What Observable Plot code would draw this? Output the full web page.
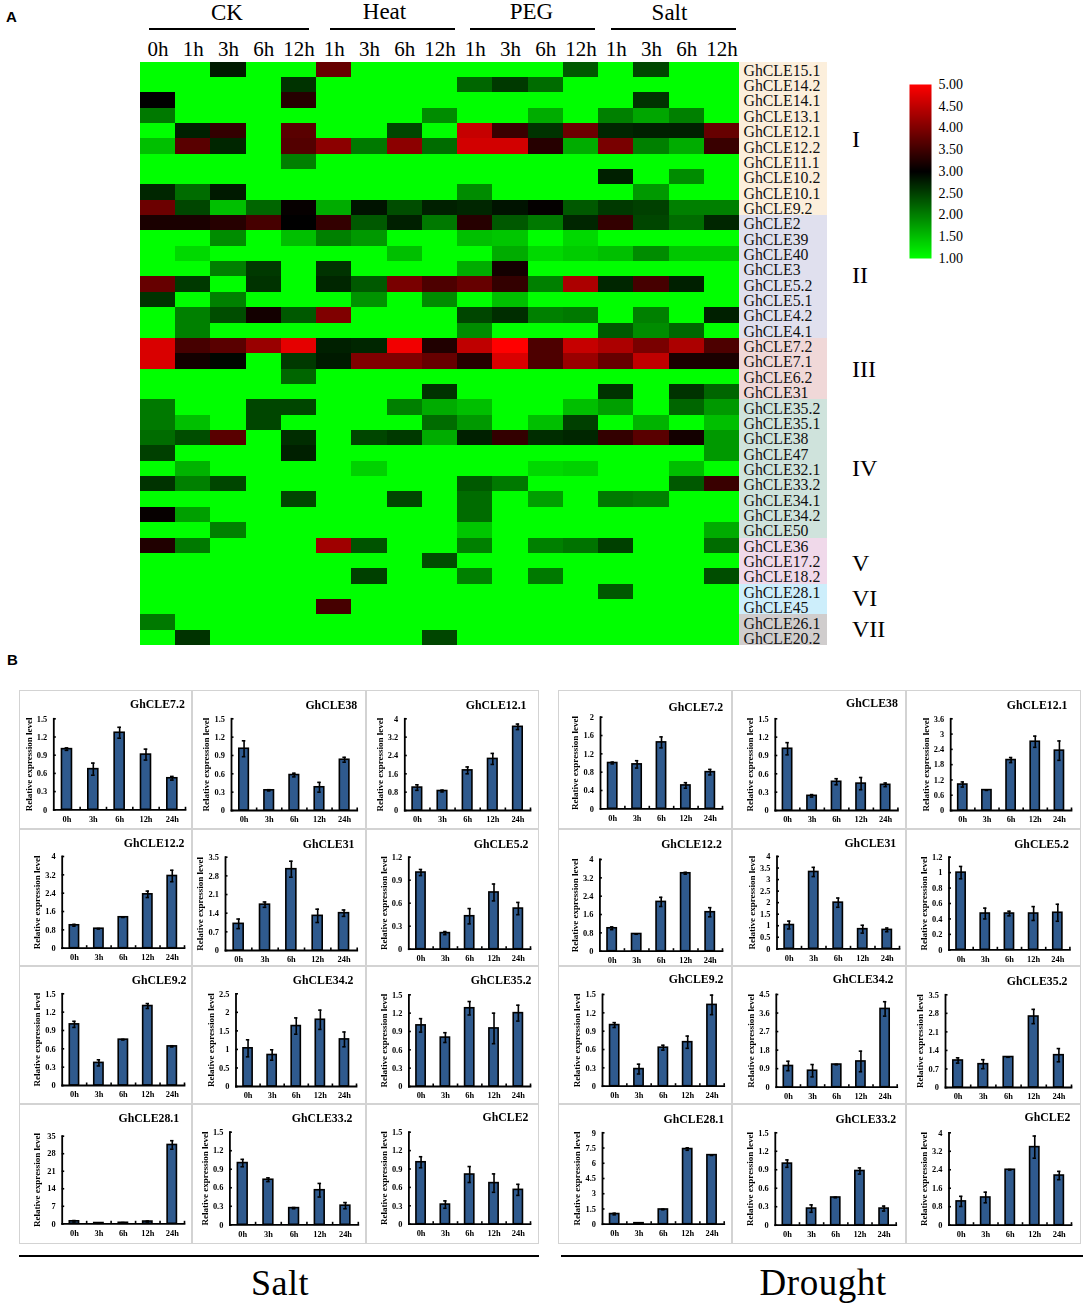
<!DOCTYPE html>
<html><head><meta charset="utf-8">
<script src="https://cdn.jsdelivr.net/npm/d3@7"></script>
<script src="https://cdn.jsdelivr.net/npm/@observablehq/plot@0.6"></script>
<style>
html,body{margin:0;padding:0;background:#fff}
#root{position:relative;width:1084px;height:1303px;overflow:hidden;font-family:"Liberation Serif",serif;color:#000}
#root svg{position:absolute;overflow:visible;background:transparent}
.t{position:absolute;white-space:nowrap;line-height:1}
.r{position:absolute;background:#000}
</style></head><body><div id="root"></div>
<script>
// ---------- heat map data ----------
const columns = ["CK 0h","CK 1h","CK 3h","CK 6h","CK 12h","Heat 1h","Heat 3h","Heat 6h","Heat 12h","PEG 1h","PEG 3h","PEG 6h","PEG 12h","Salt 1h","Salt 3h","Salt 6h","Salt 12h"];
const genes = ["GhCLE15.1","GhCLE14.2","GhCLE14.1","GhCLE13.1","GhCLE12.1","GhCLE12.2","GhCLE11.1","GhCLE10.2","GhCLE10.1","GhCLE9.2","GhCLE2","GhCLE39","GhCLE40","GhCLE3","GhCLE5.2","GhCLE5.1","GhCLE4.2","GhCLE4.1","GhCLE7.2","GhCLE7.1","GhCLE6.2","GhCLE31","GhCLE35.2","GhCLE35.1","GhCLE38","GhCLE47","GhCLE32.1","GhCLE33.2","GhCLE34.1","GhCLE34.2","GhCLE50","GhCLE36","GhCLE17.2","GhCLE18.2","GhCLE28.1","GhCLE45","GhCLE26.1","GhCLE20.2"];
const heat = [
[1,1,2.8,1,1,3.8,1,1,1,1,1,1,2.3,1,2.45,1,1],
[1,1,1,1,2.6,1,1,1,1,2.2,2.55,2.15,1,1,1,1,1],
[3,1,1,1,3.3,1,1,1,1,1,1,1,1,1,2.6,1,1],
[2.05,1,1,1,1,1,1,1,1.9,1,1,1.65,1,2,1.7,2,1],
[1,2.75,3.4,1,3.7,1,1,2.45,1,4.55,3.45,2.6,3.85,2.7,2.75,2.75,3.8],
[1.5,3.7,2.7,1,3.65,4.1,2.05,4.1,2.15,4.65,4.65,3.3,1.65,3.95,2,1.65,3.45],
[1,1,1,1,2,1,1,1,1,1,1,1,1,1,1,1,1],
[1,1,1,1,1,1,1,1,1,1,1,1,1,2.75,1,1.9,1],
[2.7,2.15,2.8,1,1,1,1,1,1,1.9,1,1,1,1,1.8,1,1],
[3.85,2.45,1.5,2.2,3.05,1.65,2.85,2.4,2.75,2.7,2.85,3.03,2.3,2.55,2.5,2,2],
[3.2,3.2,3.3,3.55,3,3.4,2.3,2.75,2.05,3.3,2.3,2.05,2.7,3.4,2.45,2.15,2.7],
[1,1,1.9,1,1.5,2,1.8,1,1,1.5,1.45,1,1.3,1,1,1,1],
[1,1.3,1,1,1,1,1,1.5,1,1,1.65,1.3,1.4,1.5,1.9,1.45,1.45],
[1,1,2,2.55,1,2.6,1,1,1,1.65,3.15,1,1,1,1,1,1],
[3.8,2.55,1,2.6,1,2.7,2.3,3.95,3.6,3.8,3.4,2,4.35,2.7,3.55,2.75,1],
[2.6,1,2,1,1,1,1.85,1,1.9,1,1.5,1,1,1,1,1,1],
[1,2,2.4,3.15,2.3,4,1,1,1,2.45,2.65,2,2.05,1,2,1,2.75],
[1,2,1,1,1,1,1,1,1,1.9,1,1,1,2.3,1.9,2.2,1],
[4.7,3.55,3.7,4.2,4.8,2.75,2.7,4.9,3.25,4.5,5,3.6,4.55,4.35,3.95,4.35,3.6],
[4.7,3.15,2.95,1,2.55,2.8,4,4,3.8,3.3,4.7,3.6,4.2,3.8,4.5,3.2,3.2],
[1,1,1,1,2.2,1,1,1,1,1,1,1,1,1,1,1,1],
[1,1,1,1,1,1,1,1,2.6,1,1,1,1,2.6,1,2.6,2.2],
[2.05,1,1,2.45,2.45,1,1,2,1.65,1.5,1,1,1.5,1.75,1,2.2,1.8],
[2.05,1.5,1,2.45,1,1,1,1,2.15,1.8,1,1.5,2.5,1,1.6,1,1.5],
[2.15,2.4,3.7,1,2.65,1,2.45,2.55,1.65,2.75,3.4,2.65,2.7,3.4,3.7,3.15,1.8],
[2.5,1,1,1,2.75,1,1,1,1,1,1,1,1,1,1,1,1.8],
[1,1.6,1,1,1,1,1.35,1,1,1,1,1.3,1.35,1,1,1.5,1],
[2.6,2,2.45,1,1,1,1,1,1,2.3,2.05,1,1,1,1,2.3,3.45],
[1,1,1,1,2.45,1,1,2.45,1,2.15,1,1.75,1,2.05,2,1,1],
[3.05,1.75,1,1,1,1,1,1,1,2.15,1,1,1,1,1,1,1],
[1,1,2,1,1,1,1,1,1,1.45,1,1,1,1,1,1,1.65],
[3.25,2.05,1,1,1,4.25,2.35,1,1,2,1,2,2.1,2.5,1,1,2.15],
[1,1,1,1,1,1,1,1,2.4,1,1,1,1,1,1,1,1],
[1,1,1,1,1,1,2.5,1,1,2,1,2.05,1,1,1,1,2.4],
[1,1,1,1,1,1,1,1,1,1,1,1,1,2.3,1,1,1],
[1,1,1,1,1,3.55,1,1,1,1,1,1,1,1,1,1,1],
[2.05,1,1,1,1,1,1,1,1,1,1,1,1,1,1,1,1],
[1,2.6,1,1,1,1,1,1,2.45,1,1,1,1,1,1,1,1]
];
const scaleTicks = [1,1.5,2,2.5,3,3.5,4,4.5,5];
const cladeNames = ["I","II","III","IV","V","VI","VII"];
const cladeSizes = [10,8,4,9,3,2,2];

// ---------- bar chart data ----------
const hours = ["0h","3h","6h","12h","24h"];
const saltNames = ["GhCLE7.2","GhCLE38","GhCLE12.1","GhCLE12.2","GhCLE31","GhCLE5.2","GhCLE9.2","GhCLE34.2","GhCLE35.2","GhCLE28.1","GhCLE33.2","GhCLE2"];
const saltValues = [[1,.67,1.27,.91,.52],[1.01,.33,.58,.38,.83],[1,.85,1.75,2.25,3.65],[1,.85,1.35,2.35,3.15],[1,1.72,3.05,1.3,1.4],[1,.21,.43,.74,.53],[1,.37,.75,1.3,.64],[1.03,.85,1.63,1.8,1.27],[1,.8,1.28,.95,1.2],[1,.3,.4,.9,31.5],[1,.73,.27,.56,.31],[1.01,.32,.81,.67,.56]];
const saltErrors = [[.02,.1,.09,.09,.03],[.13,.01,.03,.08,.04],[.12,.04,.15,.24,.12],[.04,.01,.01,.14,.25],[.18,.1,.3,.25,.12],[.04,.02,.1,.11,.08],[.05,.05,.005,.04,.01],[.23,.14,.22,.26,.2],[.11,.08,.11,.25,.13],[.3,.1,.1,.2,1.7],[.06,.03,.01,.11,.05],[.09,.06,.13,.15,.09]];
const saltTicks = [[0,.3,.6,.9,1.2,1.5],[0,.3,.6,.9,1.2,1.5],[0,.8,1.6,2.4,3.2,4],[0,.8,1.6,2.4,3.2,4],[0,.7,1.4,2.1,2.8,3.5],[0,.3,.6,.9,1.2],[0,.3,.6,.9,1.2,1.5],[0,.5,1,1.5,2,2.5],[0,.3,.6,.9,1.2,1.5],[0,7,14,21,28,35],[0,.3,.6,.9,1.2,1.5],[0,.3,.6,.9,1.2,1.5]];
const droughtNames = saltNames;
const droughtValues = [[1,.97,1.45,.51,.8],[1.01,.24,.47,.44,.42],[1.02,.8,1.98,2.7,2.35],[1,.75,2.15,3.4,1.7],[1.03,3.33,2,.85,.82],[1,.47,.47,.47,.48],[1,.28,.63,.72,1.33],[1.03,.8,1.1,1.25,3.8],[1.02,.88,1.15,2.68,1.22],[1,.1,1.45,7.4,6.8],[1,.27,.45,.88,.27],[1.03,1.2,2.4,3.38,2.15]];
const droughtErrors = [[.02,.08,.12,.06,.06],[.1,.02,.05,.1,.03],[.1,.01,.1,.22,.38],[.06,.01,.2,.04,.2],[.17,.2,.2,.17,.08],[.08,.07,.03,.09,.11],[.04,.08,.04,.1,.16],[.23,.3,.01,.5,.35],[.1,.17,.01,.27,.25],[.08,.02,.03,.12,.03],[.06,.06,.005,.05,.04],[.22,.23,.01,.48,.18]];
const droughtTicks = [[0,.4,.8,1.2,1.6,2],[0,.3,.6,.9,1.2,1.5],[0,.6,1.2,1.8,2.4,3,3.6],[0,.8,1.6,2.4,3.2,4],[0,.5,1,1.5,2,2.5,3,3.5,4],[0,.2,.4,.6,.8,1,1.2],[0,.3,.6,.9,1.2,1.5],[0,.9,1.8,2.7,3.6,4.5],[0,.7,1.4,2.1,2.8,3.5],[0,1.5,3,4.5,6,7.5,9],[0,.3,.6,.9,1.2,1.5],[0,.8,1.6,2.4,3.2,4]];

// ---------- layout and style (kept apart from the data) ----------
const cladeColors = ["#fcefdc","#e0e0ee","#f0d8d8","#cfe3dc","#f0d9ea","#cdeefb","#d0cdcd"];
const cladeBaselines = [147,283,376.7,475.7,570.7,606,636.7];
const serif = '"Liberation Serif",serif';
const BAR = "#2f5a8e";
// [axis x, top y, base y, right x, title right x, title baseline y]
const saltFrames = [
[53.3,718.3,809.3,185,184.3,707],[231,718.3,810,356.7,356.7,708],[404.3,718.3,810,530,526,708.7],
[61.7,856,947.7,184,184,846.7],[225,856.7,950,356.7,354,847],[408.3,856.7,948.7,530,528,847],
[61.7,993.3,1085,184,186,983.7],[235.5,993.3,1086,356,353,983.7],[408.4,994.3,1086,530,531,983],
[61.7,1135.7,1223.3,184,178.7,1121],[229.4,1131.7,1224.3,357.8,352,1121.7],[408.4,1131.7,1223.7,530,528,1120.3]];
const droughtFrames = [
[600,716.7,808.3,722,722.7,710],[774.8,718.3,810,897.4,897.4,706.7],[950.2,718.3,810,1071,1067,708.3],
[599.4,859,950.7,722,721.3,847.7],[776.5,856,948.3,899,895.7,846.7],[948.5,856.7,949.3,1069.4,1068.4,847.7],
[602,994,1085.7,723.7,723,982.7],[775.8,994,1086.7,896.7,893,982.7],[945,994.3,1087,1071,1067,984.7],
[602,1132.3,1223.7,723.7,723.7,1122.3],[774.8,1132.3,1224.7,895.7,895.7,1122.3],[948.5,1132.3,1224.7,1071,1070,1120.7]];
const saltCols = [20,192,366,538], droughtCols = [559,732,906,1080], cellRows = [691,829,966,1104,1243];

const root = document.getElementById("root");
function place(svg,left,top){svg.style.left=left+"px";svg.style.top=top+"px";root.appendChild(svg);return svg;}
function label(text,x,baseline,size,opt={}){
  const d=document.createElement("div");d.className="t";d.textContent=text;
  d.style.fontSize=size+"px";d.style.fontFamily=opt.family||serif;if(opt.weight)d.style.fontWeight=opt.weight;
  if(opt.spacing)d.style.letterSpacing=opt.spacing+"px";
  d.style.left=x+"px";d.style.top=(baseline-size*0.838)+"px";
  if(opt.center)d.style.transform="translateX(-50%)";
  root.appendChild(d);
}
function line(x1,x2,y,h){const d=document.createElement("div");d.className="r";d.style.left=x1+"px";d.style.width=(x2-x1)+"px";d.style.top=(y-h/2)+"px";d.style.height=h+"px";root.appendChild(d);}

// ---------- heat map ----------
const colorScale = {type:"linear",domain:[1,3,5],range:["#00ff00","#000000","#ff0000"],interpolate:"rgb"};
const long = genes.flatMap((g,i)=>columns.map((c,j)=>({gene:g,col:c,v:heat[i][j]})));
const hmTop=61.5,hmBottom=645,hmLeft=140,hmRight=739;
place(Plot.plot({
  width:hmRight,height:hmBottom+2,marginLeft:hmLeft,marginRight:0,marginTop:hmTop,marginBottom:2,
  style:{fontFamily:serif,fontSize:"21px",color:"#000"},
  x:{domain:columns,padding:0,round:false,axis:null},
  y:{domain:genes,padding:0,round:false,axis:null},
  color:colorScale,
  marks:[
    Plot.cell(long,{x:"col",y:"gene",fill:"v",shapeRendering:"crispEdges"}),
    Plot.axisX({anchor:"top",tickSize:0,tickPadding:6.5,tickFormat:d=>d.split(" ")[1],label:null})
  ]
}),0,0);

// clade label strip
const cladeOf = genes.map((g,i)=>{let n=0;for(let k=0;k<cladeSizes.length;k++){n+=cladeSizes[k];if(i<n)return k;}return 0;});
place(Plot.plot({
  width:88,height:hmBottom+2,marginLeft:0,marginRight:0,marginTop:hmTop,marginBottom:2,
  style:{fontFamily:serif,fontSize:"15.8px",color:"#000"},
  x:{domain:["strip"],padding:0,axis:null,round:false},
  y:{domain:genes,padding:0,round:false,axis:null},
  marks:[
    Plot.cell(genes,{x:()=>"strip",y:d=>d,fill:(d,i)=>cladeColors[cladeOf[i]],shapeRendering:"crispEdges"}),
    Plot.text(genes,{y:d=>d,frameAnchor:"left",dx:4,dy:1,text:d=>d,textAnchor:"start",fill:"#111"})
  ]
}),hmRight,0);

// colour bar
place(Plot.plot({
  width:60,height:184,marginLeft:0,marginRight:38,marginTop:5,marginBottom:5,
  style:{fontFamily:serif,fontSize:"14px",color:"#000"},
  x:{domain:[0,1],axis:null},
  y:{domain:[1,5],axis:null},
  color:colorScale,
  marks:[
    Plot.raster({x1:0,x2:1,y1:1,y2:5,fill:(x,y)=>y,pixelSize:1}),
    Plot.axisY({anchor:"right",ticks:scaleTicks,tickSize:0,tickPadding:7,tickFormat:d=>d.toFixed(2),label:null})
  ]
}),909,79);

// ---------- headers and other text ----------
label("A",6,21.5,15,{family:'"Liberation Sans",sans-serif',weight:"bold"});
label("B",7,664.5,15,{family:'"Liberation Sans",sans-serif',weight:"bold"});
label("CK",227,20.5,23,{center:true});line(149,309,28.5,2);
label("Heat",384.5,19,23,{center:true});line(330,455,28.5,2);
label("PEG",531.5,19.5,23,{center:true});line(470,595,28.5,2);
label("Salt",669.5,20,23,{center:true});line(611,736,28.5,2);
cladeNames.forEach((n,i)=>label(n,852,cladeBaselines[i],24));
line(19,539,1256,2);line(561,1083,1256,2);
label("Salt",280,1295.5,36,{center:true,spacing:.5});
label("Drought",823,1295.5,37,{center:true,spacing:.5});

// ---------- bar panels ----------
function panel(name,vals,errs,ticks,f,cx0,cx1,cy0,cy1){
  const [ax,top,base,right,tr,tb]=f;
  const rows=vals.map((v,i)=>({i,h:hours[i],v,e:errs[i]}));
  const W=.19,C=.07;
  const svg=Plot.plot({
    width:cx1-cx0,height:cy1-cy0,marginLeft:ax-cx0,marginRight:cx1-right,marginTop:top-cy0,marginBottom:cy1-base,
    style:{fontFamily:serif,fontSize:"8.4px",fontWeight:"bold",color:"#000"},
    x:{domain:[0,5],axis:null},
    y:{domain:[0,ticks[ticks.length-1]],axis:null},
    marks:[
      Plot.rect(rows,{x1:d=>d.i+.5-W,x2:d=>d.i+.5+W,y1:()=>0,y2:"v",fill:BAR,stroke:"#000",strokeWidth:1.6}),
      Plot.ruleX(rows,{x:d=>d.i+.5,y1:d=>Math.max(0,d.v-d.e),y2:d=>d.v+d.e,stroke:"#000",strokeWidth:1.6}),
      Plot.ruleY(rows,{y:d=>d.v+d.e,x1:d=>d.i+.5-C,x2:d=>d.i+.5+C,stroke:"#000",strokeWidth:1.6}),
      Plot.ruleY(rows,{y:d=>Math.max(0,d.v-d.e),x1:d=>d.i+.5-C,x2:d=>d.i+.5+C,stroke:"#000",strokeWidth:1.6}),
      Plot.frame({anchor:"left",stroke:"#000",strokeWidth:1.8}),
      Plot.frame({anchor:"bottom",stroke:"#000",strokeWidth:1.8}),
      Plot.axisY({anchor:"left",ticks,tickSize:-2.5,tickPadding:9,strokeWidth:1.6,tickFormat:d=>String(d),label:null}),
      Plot.text(["Relative expression level"],{frameAnchor:"left",rotate:-90,dx:-25,text:d=>d,fontSize:9,textAnchor:"middle"}),
      Plot.axisX({anchor:"bottom",ticks:[1,2,3,4,5],tickSize:-2.5,tickPadding:0,strokeWidth:1.6,tickFormat:()=>"",label:null}),
      Plot.axisX({anchor:"bottom",ticks:hours.map((h,i)=>i+.5),tickSize:0,tickPadding:6,tickFormat:d=>hours[d-.5],label:null}),
      Plot.text([name],{frameAnchor:"top-right",text:d=>d,dx:tr-right,dy:tb-top,lineAnchor:"bottom",fontSize:11.8})
    ]
  });
  svg.style.outline="1.5px solid #d3d3d3";
  svg.style.filter="blur(0.3px)";
  place(svg,cx0,cy0);
}
saltNames.forEach((n,k)=>{const c=k%3,r=Math.floor(k/3);panel(n,saltValues[k],saltErrors[k],saltTicks[k],saltFrames[k],saltCols[c],saltCols[c+1],cellRows[r],cellRows[r+1]);});
droughtNames.forEach((n,k)=>{const c=k%3,r=Math.floor(k/3);panel(n,droughtValues[k],droughtErrors[k],droughtTicks[k],droughtFrames[k],droughtCols[c],droughtCols[c+1],cellRows[r],cellRows[r+1]);});
</script></body></html>
